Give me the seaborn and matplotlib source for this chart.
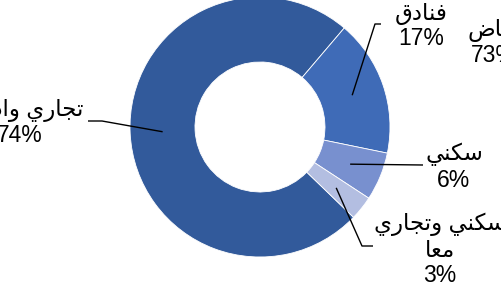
import matplotlib
matplotlib.use("Agg")
import matplotlib.pyplot as plt
import seaborn as sns
import numpy as np

# ---- data (Arabic written in presentation forms, visual order, since matplotlib does no shaping) ----
categories = [
    "\uFEF1\uFEAD\uFE8D\uFEA9\uFE8D\uFEED \uFEF1\uFEAD\uFE8E\uFEA0\uFE97",          # تجاري واداري
    "\uFED5\uFEA9\uFE8E\uFEE8\uFED3",                                                # فنادق
    "\uFEF2\uFEE8\uFEDC\uFEB3",                                                      # سكني
    "\uFEF1\uFEAD\uFE8E\uFEA0\uFE97\uFEED \uFEF2\uFEE8\uFEDC\uFEB3\n\uFE8E\uFECC\uFEE3",  # سكني وتجاري / معا
]
values = [74, 17, 6, 3]
colors = ["#325A9B", "#3F6BB7", "#7890CF", "#B3BEE1"]

# label cut off at the right edge of the original picture
extra_label = "\uFEBD\uFE8E\uFEF3\uFEAD"   # رياض
extra_value = 73

# ---- layout ----
W, H = 502, 287
sns.set_theme(style="white")
plt.rcParams["font.family"] = ["Liberation Sans", "DejaVu Sans"]

fig = plt.figure(figsize=(W / 100, H / 100), dpi=100)
ax = fig.add_axes([0, 0, 1, 1])

cx, cy, R = 260, H - 127, 130
start_compass = 134.0  # degrees clockwise from 12 o'clock
wedges, _ = ax.pie(values, colors=colors, radius=R, center=(cx, cy),
                   startangle=90 - start_compass, counterclock=False,
                   wedgeprops=dict(width=R * 0.5, linewidth=0.6, edgecolor="white"))

# label positions (pixel coords, y down) and leader elbows
text_pos = [(20, 123), (421, 26), (454, 167), (440, 250)]
elbows = [[(102, 121), (88, 121)],
          [(375, 24), (381, 24)],
          [(423, 165)],
          [(362, 246), (373, 246)]]

fs = 16.5
for w, lab, v, tp, el in zip(wedges, categories, values, text_pos, elbows):
    mid = np.deg2rad((w.theta1 + w.theta2) / 2)
    ax_ = cx + R * 0.75 * np.cos(mid)
    ay_ = cy + R * 0.75 * np.sin(mid)
    xs = [ax_] + [p[0] for p in el]
    ys = [ay_] + [H - p[1] for p in el]
    ax.plot(xs, ys, color="black", lw=1.0, solid_capstyle="butt")
    ax.text(tp[0], H - tp[1], f"{lab}\n{v}%", ha="center", va="center",
            fontsize=fs, color="black", linespacing=1.15)

ax.text(494, H - 43, f"{extra_label}\n{extra_value}%", ha="center", va="center",
        fontsize=fs, color="black", linespacing=1.15)

ax.set_xlim(0, W)
ax.set_ylim(0, H)
ax.set_aspect("equal")
ax.set_axis_off()
fig.savefig("out.png", dpi=100, facecolor="white")
